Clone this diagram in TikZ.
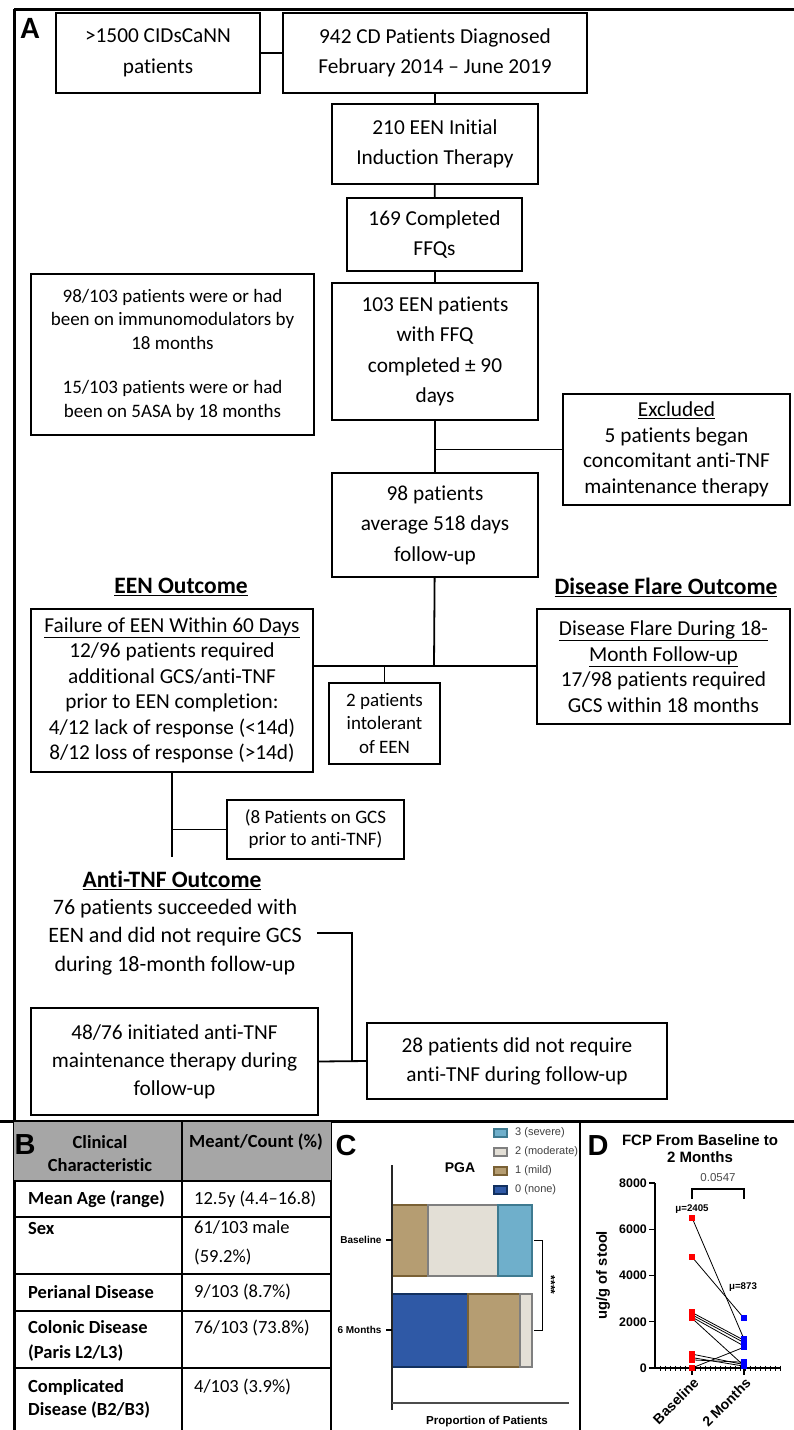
\documentclass[tikz,border=0pt]{standalone}
\usepackage{fontspec}
\setmainfont{Carlito}[Ligatures={NoCommon,NoContextual}, Contextuals=NoAlternate]
\newfontfamily\arialfont{Liberation Sans}
\usetikzlibrary{positioning}

\definecolor{hdrgray}{HTML}{A6A6A6}
\definecolor{sevfill}{HTML}{6FAFCB}
\definecolor{sevline}{HTML}{3E7A90}
\definecolor{modfill}{HTML}{E3DFD6}
\definecolor{modline}{HTML}{7F7F7F}
\definecolor{mildfill}{HTML}{B59D72}
\definecolor{mildline}{HTML}{7A6135}
\definecolor{nonefill}{HTML}{2F59A6}
\definecolor{noneline}{HTML}{12305F}

\tikzset{
  box/.style={draw, line width=1.4pt, align=center, inner sep=0pt},
  link/.style={line width=1.8pt},
  frame/.style={line width=3pt},
  tabline/.style={line width=1.4pt},
  bigtxt/.style={font=\fontsize{21.3}{30.5}\selectfont},
  midtxt/.style={font=\fontsize{21.3}{25.5}\selectfont},
  smalltxt/.style={font=\fontsize{19}{23.5}\selectfont},
  outhead/.style={font=\bfseries\fontsize{23.5}{28}\selectfont},
  panellab/.style={font=\arialfont\bfseries\fontsize{29}{29}\selectfont},
  cellhead/.style={font=\bfseries\fontsize{18.5}{23}\selectfont, align=center},
  cellkey/.style={font=\bfseries\fontsize{18.5}{24}\selectfont, align=left, anchor=west, inner sep=0pt},
  cellval/.style={font=\fontsize{18.5}{29}\selectfont, align=left, anchor=west, inner sep=0pt},
  pgasev/.style={fill=sevfill, draw=sevline, line width=1.2pt},
  pgamod/.style={fill=modfill, draw=modline, line width=1.2pt},
  pgamild/.style={fill=mildfill, draw=mildline, line width=1.2pt},
  pganone/.style={fill=nonefill, draw=noneline, line width=1.2pt},
  axlab/.style={font=\arialfont\bfseries\fontsize{10}{10}\selectfont},
  leglab/.style={font=\arialfont\fontsize{11}{11}\selectfont, text=black!75, anchor=west, inner sep=0pt},
}

\begin{document}
\begin{tikzpicture}[x=1pt,y=-1pt]
    \fill[white] (0,0) rectangle (794,1430);
    \useasboundingbox (0,0) rectangle (794,1430);

    % Cornici dei pannelli
    \draw[frame] (14,9) -- (794,9);
    \draw[frame] (14,9) -- (14,1430);
    \draw[frame] (0,1121) -- (794,1121);
    \draw[line width=2pt] (331,1121) -- (331,1430);
    \draw[line width=2pt] (580,1121) -- (580,1430);

    % Pannello A: flusso dei pazienti
    \node[font=\bfseries\fontsize{31}{31}\selectfont] (labA) at (30,28) {A};
    \node[box, bigtxt, minimum width=204, minimum height=80] (cidscann) at (158,53) {>1500 CIDsCaNN\\patients};
    \node[box, bigtxt, minimum width=304, minimum height=80] (diag) at (435,53) {942 CD Patients Diagnosed\\February 2014 – June 2019};
    \node[box, bigtxt, minimum width=206, minimum height=80] (induct) at (435,144) {210 EEN Initial\\Induction Therapy};
    \node[box, bigtxt, minimum width=175, minimum height=73] (ffq) at (434.5,234.5) {169 Completed\\FFQs};
    \node[box, bigtxt, minimum width=206, minimum height=137] (een103) at (435,351.5) {103 EEN patients\\with FFQ\\completed ± 90\\days};
    \node[box, smalltxt, minimum width=283, minimum height=161] (immuno) at (172.5,354.5) {98/103 patients were or had\\been on immunomodulators by\\18 months\\[21pt]15/103 patients were or had\\been on 5ASA by 18 months};
    \node[box, midtxt, minimum width=227, minimum height=111] (excl) at (676.5,449.5) {\underline{Excluded}\\5 patients began\\concomitant anti-TNF\\maintenance therapy};
    \node[box, bigtxt, minimum width=206, minimum height=104] (pts98) at (435,525) {98 patients\\average 518 days\\follow-up};

    % Esiti
    \node[outhead] (eenhead) at (181,587) {\underline{EEN Outcome}};
    \node[outhead] (flarehead) at (666,587) {\underline{Disease Flare Outcome}};
    \node[box, midtxt, minimum width=282, minimum height=163] (eenfail) at (172,690.5) {\underline{Failure of EEN Within 60 Days}\\12/96 patients required\\additional GCS/anti-TNF\\prior to EEN completion:\\4/12 lack of response (<14d)\\8/12 loss of response (>14d)};
    \node[box, midtxt, minimum width=253, minimum height=115] (flare) at (663.5,666.5) {\underline{Disease Flare During 18-}\\\underline{Month Follow-up}\\17/98 patients required\\GCS within 18 months};
    \node[box, smalltxt, minimum width=111, minimum height=81] (intol) at (384.5,723.5) {2 patients\\intolerant\\of EEN};
    \node[box, font=\fontsize{19}{22}\selectfont, minimum width=177, minimum height=59] (gcs) at (315.5,829.5) {(8 Patients on GCS\\prior to anti-TNF)};
    \node[outhead] (tnfhead) at (172,880) {\underline{Anti-TNF Outcome}};
    \node[font=\fontsize{22}{28.5}\selectfont, align=center] (succ) at (175,937) {76 patients succeeded with\\EEN and did not require GCS\\during 18-month follow-up};
    \node[box, font=\fontsize{21.3}{28}\selectfont, minimum width=287, minimum height=107] (tnf48) at (174.5,1061.5) {48/76 initiated anti-TNF\\maintenance therapy during\\follow-up};
    \node[box, font=\fontsize{21.3}{29}\selectfont, minimum width=300, minimum height=76] (notnf) at (517,1061) {28 patients did not require\\anti-TNF during follow-up};

    % Collegamenti
    \coordinate (split) at (434,666);
    \coordinate (tnfend) at (172,857);
    \coordinate (succbend) at (352,933);
    \draw[link] (cidscann) -- (diag);
    \draw[link] (diag) -- (induct);
    \draw[link] (induct) -- (ffq);
    \draw[link] (ffq.south -| een103.north) -- (een103);
    \draw[link] (een103) -- (pts98);
    \draw[link] (excl.west) -- (excl.west -| een103.south);
    \draw[link] (pts98) -- (split);
    \draw[link] (eenfail.east |- split) -- (flare.west |- split);
    \draw[link] (intol.north) -- (intol.north |- split);
    \draw[link] (eenfail.south) -- (tnfend);
    \draw[link] (gcs.west) -- (gcs.west -| eenfail.south);
    \draw[link] ([xshift=12pt]succ.east |- succbend) -- (succbend) -- (succbend |- notnf.west);
    \draw[link] (tnf48.east) -- (notnf.west);

    % Pannello B: tabella
    \fill[hdrgray] (14,1122) rectangle (331,1181);
    \foreach \y in {1181,1217,1274,1311,1368}
        \draw[tabline] (14,\y) -- (331,\y);
    \draw[tabline] (182,1122) -- (182,1430);
    \node[panellab] (labB) at (25,1145) {B};
    \node[cellhead] (hclin) at (100,1153.5) {Clinical\\Characteristic};
    \node[cellhead] (hmean) at (256,1142) {Meant/Count (\%)};
    \node[cellkey] (kage) at (28,1199) {Mean Age (range)};
    \node[cellval] (vage) at (194,1199) {12.5y (4.4–16.8)};
    \node[cellkey] (ksex) at (28,1228) {Sex};
    \node[cellval] (vsex) at (194,1242.5) {61/103 male\\(59.2\%)};
    \node[cellkey] (kperi) at (28,1292) {Perianal Disease};
    \node[cellval] (vperi) at (194,1292) {9/103 (8.7\%)};
    \node[cellkey, font=\bfseries\fontsize{18.5}{25}\selectfont] (kcol) at (28,1340.5) {Colonic Disease\\(Paris L2/L3)};
    \node[cellval] (vcol) at (194,1328) {76/103 (73.8\%)};
    \node[cellkey, font=\bfseries\fontsize{18.5}{23}\selectfont] (kcomp) at (28,1398.5) {Complicated\\Disease (B2/B3)};
    \node[cellval] (vcomp) at (194,1387) {4/103 (3.9\%)};

    % Pannello C: PGA
    \node[panellab] (labC) at (346,1146) {C};
    \foreach \lab/\sty/\y in {3 (severe)/pgasev/1133, 2 (moderate)/pgamod/1152, 1 (mild)/pgamild/1171, 0 (none)/pganone/1190} {
        \draw[\sty] (494,\y-4) rectangle (507,\y+4);
        \node[leglab] at (515,\y) {\lab};
    }
    \node[font=\arialfont\bfseries\fontsize{14}{14}\selectfont] (pga) at (460,1168) {PGA};
    \draw[pgamild] (392,1205) rectangle (428,1276);
    \draw[pgamod] (428,1205) rectangle (498,1276);
    \draw[pgasev] (498,1205) rectangle (532,1276);
    \draw[pganone] (392,1294) rectangle (468,1367);
    \draw[pgamild] (468,1294) rectangle (520,1367);
    \draw[pgamod] (520,1294) rectangle (532,1367);
    \draw[line width=1.5pt, black!85] (392,1165) -- (392,1410);
    \draw[line width=1.5pt, black!70] (392,1403) -- (569,1403);
    \draw[line width=1.2pt] (386,1240) -- (392,1240);
    \draw[line width=1.2pt] (386,1330) -- (392,1330);
    \node[axlab, anchor=east] (tbase) at (385,1240) {Baseline};
    \node[axlab, anchor=east] (t6m) at (385,1330) {6 Months};
    \draw[line width=1pt] (534,1240) -- (542,1240) -- (542,1330) -- (534,1330);
    \node[font=\arialfont\bfseries\fontsize{12}{12}\selectfont, rotate=-90, inner sep=0pt] (stars) at (551,1285) {****};
    \node[font=\arialfont\bfseries\fontsize{11.6}{12}\selectfont] (propx) at (487,1421) {Proportion of Patients};

    % Pannello D: FCP
    \node[panellab] (labD) at (598,1146) {D};
    \node[font=\arialfont\bfseries\fontsize{15}{17}\selectfont, align=center, inner sep=0pt] (fcpt) at (700,1149) {FCP From Baseline to\\2 Months};
    \node[font=\arialfont\bfseries\fontsize{14.7}{15}\selectfont, rotate=90] (ylab) at (603,1275) {ug/g of stool};
    \draw[line width=1.6pt] (655,1183) -- (655,1368);
    \foreach \v in {0,2000,4000,6000,8000} {
        \pgfmathsetmacro\yy{1368-\v*0.023125}
        \draw[line width=1.4pt] (649,\yy) -- (655,\yy);
        \node[font=\arialfont\bfseries\fontsize{12.4}{12.4}\selectfont, anchor=east, inner sep=1pt] at (648,\yy) {\v};
    }
    \draw[line width=1.6pt] (655,1368) -- (781,1368);
    \foreach \xx in {660,665,...,780}
        \draw[line width=0.6pt] (\xx,1365.5) -- (\xx,1370.5);
    \draw[line width=1.4pt] (692,1368) -- (692,1375);
    \draw[line width=1.4pt] (744,1368) -- (744,1375);
    \node[font=\arialfont\bfseries\fontsize{14}{14}\selectfont, rotate=45, anchor=east, inner sep=1pt] (xbase) at (697,1380) {Baseline};
    \node[font=\arialfont\bfseries\fontsize{14}{14}\selectfont, rotate=45, anchor=east, inner sep=1pt] (x2m) at (749,1380) {2 Months};
    \draw[line width=1.8pt] (692,1199) -- (692,1189) -- (744,1189) -- (744,1199);
    \node[font=\arialfont\fontsize{11.5}{12}\selectfont, text=black!70] (pval) at (718,1178) {0.0547};
    \node[font=\arialfont\bfseries\fontsize{9.7}{10}\selectfont] (mu1) at (692,1209) {μ=2405};
    \node[font=\arialfont\bfseries\fontsize{9.7}{10}\selectfont] (mu2) at (743,1287) {μ=873};
    \foreach \a/\b in {6500/1250, 4800/2150, 2400/1200, 2300/1100, 2200/950, 2150/100, 600/150, 450/80, 350/250, 0/900} {
        \pgfmathsetmacro\ya{1368-\a*0.023125}
        \pgfmathsetmacro\yb{1368-\b*0.023125}
        \draw[line width=0.8pt] (692,\ya) -- (744,\yb);
        \fill[red] (689,\ya-3) rectangle (695,\ya+3);
        \fill[blue] (741,\yb-3) rectangle (747,\yb+3);
    }
\end{tikzpicture}
\end{document}
